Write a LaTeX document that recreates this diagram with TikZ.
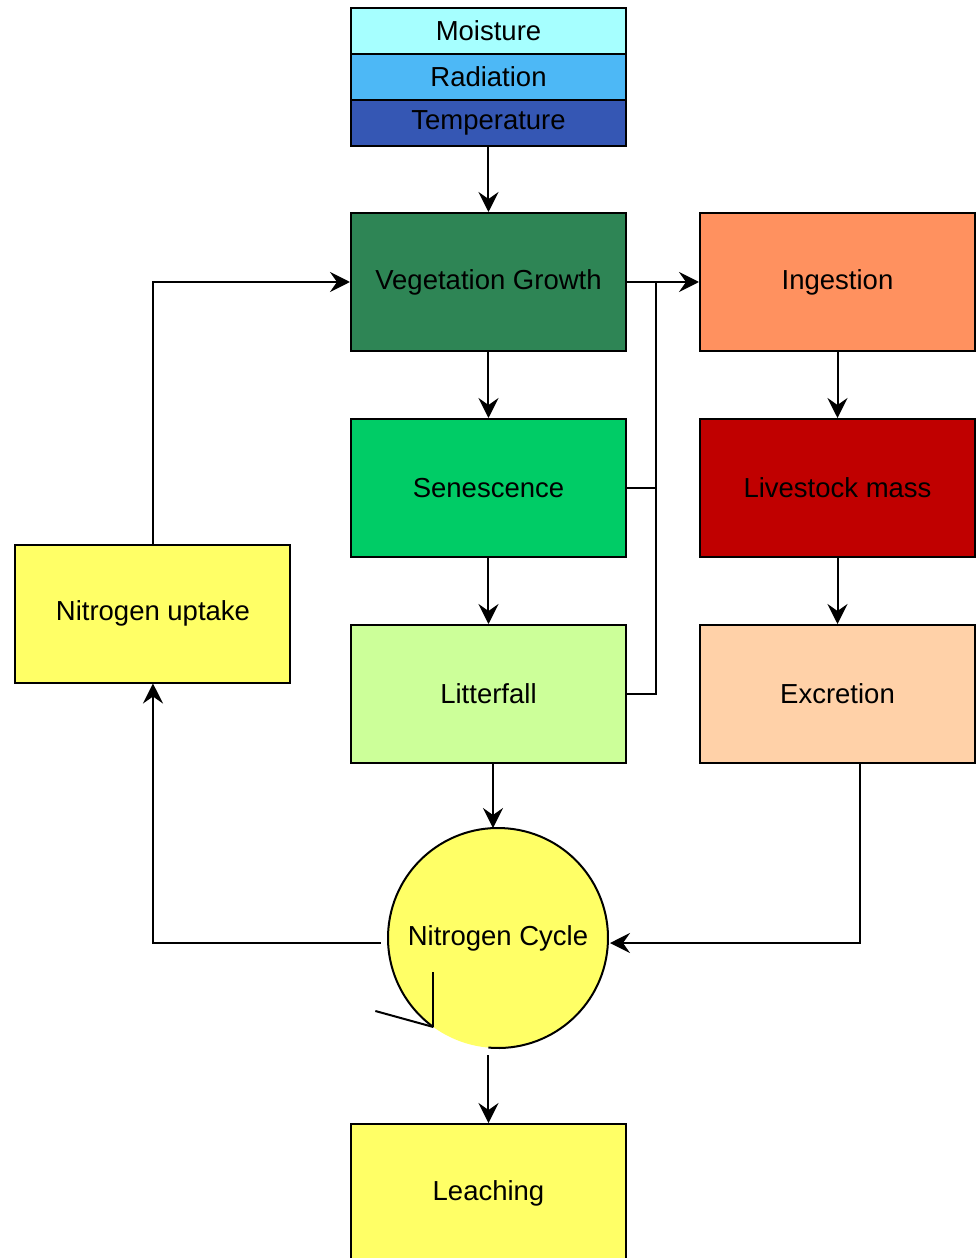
\documentclass[tikz,border=0pt]{standalone}
\usepackage{fontspec}
\setmainfont{Liberation Sans}
\usetikzlibrary{arrows.meta,positioning,calc}

\definecolor{moistcol}{HTML}{A6FFFF}
\definecolor{radcol}{HTML}{4DB8F6}
\definecolor{tempcol}{HTML}{3557B4}
\definecolor{vegcol}{HTML}{2E8555}
\definecolor{ingcol}{HTML}{FF915F}
\definecolor{sencol}{HTML}{00CC66}
\definecolor{stockcol}{HTML}{C00000}
\definecolor{litcol}{HTML}{CCFF99}
\definecolor{exccol}{HTML}{FFD1A8}
\definecolor{nyellow}{HTML}{FFFF66}

\begin{document}
\begin{tikzpicture}[->, >={Stealth[length=10pt,width=10pt,inset=3.5pt]}, line width=1pt, node distance=33pt, font=\fontsize{13.75}{16}\selectfont]
\tikzstyle{box}=[rectangle,draw=black,line width=1pt,minimum width=137.5pt,minimum height=69pt,inner sep=0pt,text=black]
\tikzstyle{band}=[box,minimum height=23pt,outer sep=0pt]
\useasboundingbox (-244.25pt,141pt) rectangle (244.25pt,-488pt);
\node[box,fill=vegcol]    (veg)    at (0,0)            {Vegetation Growth};
\node[box,fill=ingcol]    (ingest) [right=36pt of veg] {Ingestion};
\node[box,fill=sencol]    (senes)  [below=of veg]      {Senescence};
\node[box,fill=litcol]    (litter) [below=of senes]    {Litterfall};
\node[box,fill=stockcol]  (stock)  [below=of ingest]   {Livestock mass};
\node[box,fill=exccol]    (excr)   [below=of stock]    {Excretion};
\node[band,fill=tempcol]  (temp)   [above=33pt of veg]  {Temperature};
\node[band,fill=radcol]   (rad)    [above=0pt of temp]  {Radiation};
\node[band,fill=moistcol] (moist)  [above=0pt of rad]   {Moisture};
\node[box,fill=nyellow]   (uptake) at (-167.75pt,-165.75pt) {Nitrogen uptake};
\node[circle,fill=nyellow,minimum size=110pt,inner sep=0pt,outer sep=0pt] (cycle) at (4.75pt,-328pt) {Nitrogen Cycle};
\node[box,fill=nyellow]   (leach)  [below=37.5pt of cycle,xshift=-4.75pt] {Leaching};
% cycle outline with open head
\draw[-] (cycle.265) arc[start angle=265,end angle=594,radius=55pt];
\coordinate (tip) at (cycle.234);
\draw[-] (tip) -- ++(0,27.5pt);
\draw[-] (tip) -- ++(-29pt,8pt);
\path
(temp)   edge (veg)
(veg)    edge (senes)
         edge (ingest)
(senes)  edge (litter)
(ingest) edge (stock)
(stock)  edge (excr);
\coordinate (join)    at ($(veg.east)+(14.5pt,0)$);
\coordinate (litdrop) at ($(litter.south)+(2.25pt,0)$);
\coordinate (excdrop) at ($(excr.south)+(11.25pt,0)$);
\coordinate (cycin)   at ($(cycle.east)+(1pt,-2.5pt)$);
\coordinate (cycout)  at ($(cycle.west)+(-3.5pt,-2.5pt)$);
\coordinate (cycbot)  at ($(cycle.south -| leach.north)+(0,-3.5pt)$);
\draw[-] (senes.east) -| (join);
\draw[-] (litter.east) -| (join);
\draw (litdrop) -- (litdrop |- cycle.north);
\draw (excdrop) |- (cycin);
\draw (cycout) -| (uptake.south);
\draw (uptake.north) |- (veg.west);
\draw (cycbot) -- (leach.north);
\end{tikzpicture}
\end{document}
